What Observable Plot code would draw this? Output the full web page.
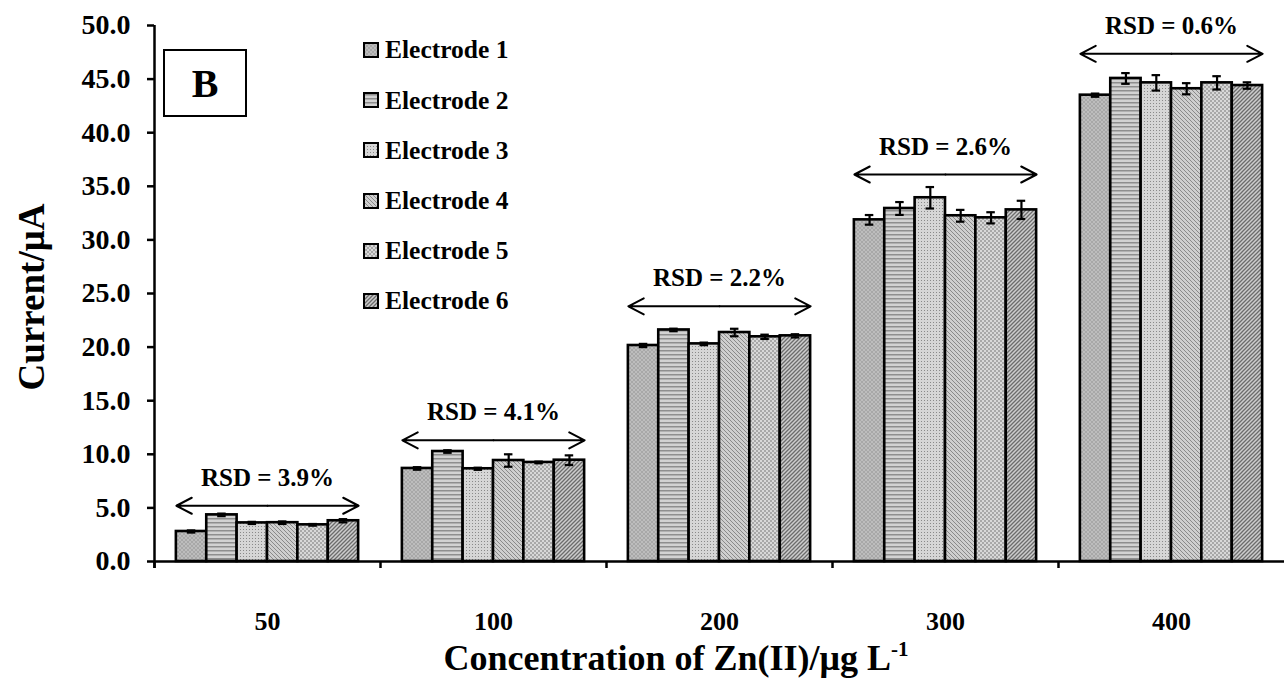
<!DOCTYPE html>
<html>
<head>
<meta charset="utf-8">
<script src="https://cdn.jsdelivr.net/npm/d3@7"></script>
<script src="https://cdn.jsdelivr.net/npm/@observablehq/plot@0.6"></script>
<style>
  body { margin: 0; background: #fff; }
  #wrap { position: relative; width: 1285px; height: 682px; font-family: "Liberation Serif", "Times New Roman", serif; font-weight: bold; color: #000; overflow: hidden; }
  #wrap svg.plot { position: absolute; left: 0; top: 0; }
  .legend { position: absolute; left: 363px; top: 25px; }
  .legend .row { height: 50.2px; display: flex; align-items: center; font-size: 25.5px; line-height: 1; }
  .legend .row svg { margin-right: 6px; }
  .panel { position: absolute; left: 163px; top: 49px; width: 84px; height: 68px; box-sizing: border-box; border: 2px solid #000; font-size: 40px; display: flex; align-items: center; justify-content: center; background: #fff; }
  .ytitle { position: absolute; left: 31px; top: 297px; transform: translate(-50%, -50%) rotate(-90deg); font-size: 37px; white-space: nowrap; }
  .xtitle { position: absolute; left: 0; width: 1352px; top: 640px; text-align: center; font-size: 36px; white-space: nowrap; line-height: 1; }
  .xtitle sup { font-size: 21px; vertical-align: 14px; line-height: 0; }
</style>
</head>
<body>
<svg width="0" height="0" style="position:absolute">
  <defs>
    <pattern id="pat1" patternUnits="userSpaceOnUse" width="4" height="4">
      <rect width="4" height="4" fill="#bdbdbd"/>
      <path d="M0,4 L4,0 M0,0 L4,4" stroke="#a2a2a2" stroke-width="0.8"/>
    </pattern>
    <pattern id="pat2" patternUnits="userSpaceOnUse" width="4" height="4">
      <rect width="4" height="4" fill="#d2d2d2"/>
      <rect y="2" width="4" height="1.5" fill="#8e8e8e"/>
    </pattern>
    <pattern id="pat3" patternUnits="userSpaceOnUse" width="3" height="3">
      <rect width="3" height="3" fill="#d6d6d6"/>
      <rect x="1" y="1" width="1" height="1" fill="#8a8a8a"/>
    </pattern>
    <pattern id="pat4" patternUnits="userSpaceOnUse" width="4" height="4">
      <rect width="4" height="4" fill="#cfcfcf"/>
      <path d="M-1,-1 L5,5 M-1,3 L1,5 M3,-1 L5,1" stroke="#8a8a8a" stroke-width="1"/>
    </pattern>
    <pattern id="pat5" patternUnits="userSpaceOnUse" width="4" height="4">
      <rect width="4" height="4" fill="#d8d8d8"/>
      <rect width="2" height="2" fill="#a8a8a8"/>
      <rect x="2" y="2" width="2" height="2" fill="#a8a8a8"/>
    </pattern>
    <pattern id="pat6" patternUnits="userSpaceOnUse" width="4" height="4">
      <rect width="4" height="4" fill="#cdcdcd"/>
      <path d="M-1,5 L5,-1 M-1,1 L1,-1 M3,5 L5,3" stroke="#6c6c6c" stroke-width="1.3"/>
    </pattern>
  </defs>
</svg>
<div id="wrap"></div>
<script>
// ---- data ----
const concentrations = [50, 100, 200, 300, 400];
const electrodes = ["Electrode 1", "Electrode 2", "Electrode 3", "Electrode 4", "Electrode 5", "Electrode 6"];

const electrode1 = [2.80, 8.68, 20.15, 31.87, 43.50];
const electrode2 = [4.35, 10.26, 21.60, 32.93, 45.06];
const electrode3 = [3.60, 8.65, 20.30, 33.93, 44.65];
const electrode4 = [3.62, 9.42, 21.36, 32.25, 44.10];
const electrode5 = [3.42, 9.24, 20.96, 32.06, 44.65];
const electrode6 = [3.80, 9.45, 21.05, 32.80, 44.40];

const error1 = [0.10, 0.12, 0.15, 0.45, 0.15];
const error2 = [0.12, 0.12, 0.12, 0.60, 0.50];
const error3 = [0.10, 0.10, 0.12, 1.00, 0.72];
const error4 = [0.12, 0.58, 0.35, 0.55, 0.52];
const error5 = [0.08, 0.08, 0.20, 0.52, 0.62];
const error6 = [0.15, 0.45, 0.15, 0.85, 0.30];

const rsdLabels = ["RSD = 3.9%", "RSD = 4.1%", "RSD = 2.2%", "RSD = 2.6%", "RSD = 0.6%"];
const rsdLevels = [5.2, 11.3, 23.8, 36.1, 47.36];

const yTicks = [0, 5, 10, 15, 20, 25, 30, 35, 40, 45, 50];
const patternFills = ["url(#pat1)", "url(#pat2)", "url(#pat3)", "url(#pat4)", "url(#pat5)", "url(#pat6)"];

// ---- tables ----
const seriesValues = [electrode1, electrode2, electrode3, electrode4, electrode5, electrode6];
const seriesErrors = [error1, error2, error3, error4, error5, error6];
const rows = [];
electrodes.forEach((e, i) => concentrations.forEach((c, j) => {
  rows.push({conc: c, electrode: e, i, value: seriesValues[i][j], err: seriesErrors[i][j]});
}));
const rsd = concentrations.map((c, j) => ({conc: c, label: rsdLabels[j], level: rsdLevels[j]}));

const N = electrodes.length;
const PAD = 0.72;     // outer gap in each category, in bar widths
const CAP = 0.14;     // half cap width, in bar widths
const mid = N / 2;

const plot = Plot.plot({
  width: 1285,
  height: 682,
  marginLeft: 152,
  marginRight: 0,
  marginTop: 25,
  marginBottom: 121,
  style: {fontFamily: '"Liberation Serif", "Times New Roman", serif', fontWeight: "bold", color: "#000", background: "transparent", overflow: "visible"},
  fx: {domain: concentrations, padding: 0},
  x: {domain: [-PAD, N + PAD], axis: null},
  y: {domain: [0, 50]},
  color: {domain: electrodes, range: patternFills},
  marks: [
    Plot.axisY({ticks: yTicks, tickFormat: d => d.toFixed(1), tickSize: 7, tickPadding: 17, label: null, fontSize: 28, strokeWidth: 2.5}),
    Plot.axisFx({anchor: "bottom", tickSize: 0, tickPadding: 50, label: null, fontSize: 26}),
    Plot.rectY(rows, {fx: "conc", x1: "i", x2: d => d.i + 1, y: "value", fill: "electrode", stroke: "#000", strokeWidth: 2.6}),
    Plot.ruleX(rows, {fx: "conc", x: d => d.i + 0.5, y1: d => d.value - d.err, y2: d => d.value + d.err, strokeWidth: 2.2}),
    Plot.ruleY(rows, {fx: "conc", y: d => d.value + d.err, x1: d => d.i + 0.5 - CAP, x2: d => d.i + 0.5 + CAP, strokeWidth: 2.2}),
    Plot.ruleY(rows, {fx: "conc", y: d => d.value - d.err, x1: d => d.i + 0.5 - CAP, x2: d => d.i + 0.5 + CAP, strokeWidth: 2.2}),
    Plot.ruleY([0], {strokeWidth: 2.5}),
    Plot.ruleX(concentrations, {fx: d => d, x: () => -PAD, y1: () => 0, y2: () => 0, insetBottom: -7, strokeWidth: 2.5}),
    Plot.ruleX([concentrations[0]], {fx: d => d, x: () => -PAD, insetBottom: -7, strokeWidth: 2.5}),
    Plot.arrow(rsd, {fx: "conc", x1: () => mid, x2: () => 0, y1: "level", y2: "level", headLength: 13, headAngle: 55, strokeWidth: 2, stroke: "#000"}),
    Plot.arrow(rsd, {fx: "conc", x1: () => mid, x2: () => N, y1: "level", y2: "level", headLength: 13, headAngle: 55, strokeWidth: 2, stroke: "#000"}),
    Plot.text(rsd, {fx: "conc", x: () => mid, y: "level", dy: -28, text: "label", fontSize: 25, fontWeight: "bold"})
  ]
});
plot.classList.add("plot");

const wrap = document.getElementById("wrap");
wrap.appendChild(plot);

// legend
const legend = document.createElement("div");
legend.className = "legend";
electrodes.forEach((e, i) => {
  const row = document.createElement("div");
  row.className = "row";
  row.innerHTML = `<svg width="16" height="16"><rect x="1" y="1" width="14" height="14" fill="${patternFills[i]}" stroke="#000" stroke-width="2"/></svg><span>${e}</span>`;
  legend.appendChild(row);
});
wrap.appendChild(legend);

const panel = document.createElement("div");
panel.className = "panel";
panel.textContent = "B";
wrap.appendChild(panel);

const ytitle = document.createElement("div");
ytitle.className = "ytitle";
ytitle.textContent = "Current/μA";
wrap.appendChild(ytitle);

const xtitle = document.createElement("div");
xtitle.className = "xtitle";
xtitle.innerHTML = "Concentration of Zn(II)/μg L<sup>-1</sup>";
wrap.appendChild(xtitle);
</script>
</body>
</html>
